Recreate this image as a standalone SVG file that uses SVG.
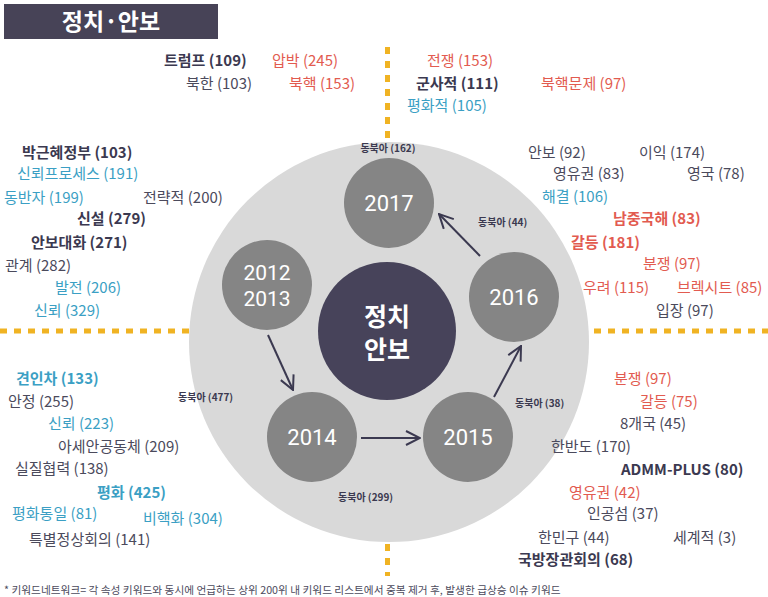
<svg xmlns="http://www.w3.org/2000/svg" width="768" height="597" viewBox="0 0 768 597">
<style>
text{font-family:"Noto Sans CJK KR","Noto Sans",sans-serif;font-size:15px}
.d{fill:#4b4a5c}
.b{fill:#3b3950;font-weight:700}
.r{fill:#e25b50}
.rb{fill:#e25b50;font-weight:700}
.u{fill:#3b9fc4}
.ub{fill:#3b9fc4;font-weight:700}
.s{fill:#3b3950;font-size:10px;font-weight:700}
.yr{fill:#fff;font-family:Roboto,"Noto Sans",sans-serif;font-size:22px;text-anchor:middle}
.yr2{fill:#fff;font-family:Roboto,"Noto Sans",sans-serif;font-size:21px;text-anchor:middle}
.ct{fill:#fff;font-size:25px;font-weight:700;text-anchor:middle}
.yc{fill:#858585}
.dash{stroke:#f0b323;stroke-width:5;stroke-dasharray:7 7;fill:none}
.ar{stroke:#3b3950;stroke-width:2;fill:none;marker-end:url(#ah)}
</style>
<defs>
<marker id="ah" viewBox="0 0 16 16" refX="15" refY="8" markerWidth="16" markerHeight="16" markerUnits="userSpaceOnUse" orient="auto">
<path d="M1,1 L15,8 L1,15" fill="none" stroke="#3b3950" stroke-width="2"/>
</marker>
</defs>
<rect width="768" height="597" fill="#fff"/>
<g id="title">
<rect x="4" y="4" width="214" height="35" fill="#474357"/>
<text x="111" y="30" style="fill:#fff;font-size:23px;font-weight:700;text-anchor:middle">정치·안보</text>
</g>
<g id="dividers">
<line class="dash" x1="387.5" y1="47" x2="387.5" y2="142"/>
<line class="dash" x1="387.5" y1="530" x2="387.5" y2="576"/>
<line class="dash" x1="0" y1="331" x2="197" y2="331"/>
<line class="dash" x1="580" y1="331" x2="768" y2="331"/>
</g>
<g id="ring"><circle cx="389" cy="342" r="200" fill="#d9d9d9"/></g>
<g id="center">
<circle cx="387" cy="331" r="69" fill="#47435a"/>
<text class="ct" x="387" y="326">정치</text>
<text class="ct" x="387" y="359">안보</text>
</g>
<g id="y2017"><circle class="yc" cx="389" cy="203" r="45"/><text class="yr" x="389" y="211">2017</text></g>
<g id="y2012"><circle class="yc" cx="267" cy="285" r="45"/><text class="yr2" x="267" y="280">2012</text><text class="yr2" x="267" y="306">2013</text></g>
<g id="y2016"><circle class="yc" cx="514" cy="297" r="45"/><text class="yr" x="514" y="305">2016</text></g>
<g id="y2014"><circle class="yc" cx="312" cy="437" r="45"/><text class="yr" x="312" y="445">2014</text></g>
<g id="y2015"><circle class="yc" cx="468" cy="437" r="45"/><text class="yr" x="468" y="445">2015</text></g>
<g id="connectors">
<line class="ar" x1="268" y1="335" x2="293" y2="390"/>
<line class="ar" x1="361" y1="438" x2="420" y2="438"/>
<line class="ar" x1="494" y1="397" x2="521" y2="346"/>
<line class="ar" x1="480" y1="256" x2="439" y2="214"/>
<text class="s" x="388" y="152" text-anchor="middle">동북아 (162)</text>
<text class="s" x="478" y="226">동북아 (44)</text>
<text class="s" x="178" y="401">동북아 (477)</text>
<text class="s" x="515" y="407">동북아 (38)</text>
<text class="s" x="338" y="501">동북아 (299)</text>
</g>
<g id="kw-top">
<text class="b" x="164" y="66">트럼프 (109)</text>
<text class="r" x="272" y="66">압박 (245)</text>
<text class="d" x="186" y="89">북한 (103)</text>
<text class="r" x="289" y="89">북핵 (153)</text>
<text class="r" x="427" y="66">전쟁 (153)</text>
<text class="b" x="416" y="89">군사적 (111)</text>
<text class="r" x="541" y="89">북핵문제 (97)</text>
<text class="u" x="407" y="111">평화적 (105)</text>
</g>
<g id="kw-left-top">
<text class="b" x="22" y="158">박근혜정부 (103)</text>
<text class="u" x="17" y="179">신뢰프로세스 (191)</text>
<text class="u" x="4" y="203">동반자 (199)</text>
<text class="d" x="143" y="203">전략적 (200)</text>
<text class="b" x="77" y="224">신설 (279)</text>
<text class="b" x="31" y="248">안보대화 (271)</text>
<text class="d" x="5" y="271">관계 (282)</text>
<text class="u" x="55" y="293">발전 (206)</text>
<text class="u" x="34" y="316">신뢰 (329)</text>
</g>
<g id="kw-right-top">
<text class="d" x="528" y="158">안보 (92)</text>
<text class="d" x="639" y="158">이익 (174)</text>
<text class="d" x="553" y="179">영유권 (83)</text>
<text class="d" x="687" y="179">영국 (78)</text>
<text class="u" x="542" y="202">해결 (106)</text>
<text class="rb" x="613" y="224">남중국해 (83)</text>
<text class="rb" x="571" y="248">갈등 (181)</text>
<text class="r" x="643" y="269">분쟁 (97)</text>
<text class="r" x="583" y="293">우려 (115)</text>
<text class="r" x="677" y="293">브렉시트 (85)</text>
<text class="d" x="656" y="316">입장 (97)</text>
</g>
<g id="kw-left-bottom">
<text class="ub" x="16" y="384">견인차 (133)</text>
<text class="d" x="8" y="407">안정 (255)</text>
<text class="u" x="48" y="429">신뢰 (223)</text>
<text class="d" x="58" y="452">아세안공동체 (209)</text>
<text class="d" x="15" y="474">실질협력 (138)</text>
<text class="ub" x="97" y="498">평화 (425)</text>
<text class="u" x="12" y="519">평화통일 (81)</text>
<text class="u" x="143" y="524">비핵화 (304)</text>
<text class="d" x="29" y="545">특별정상회의 (141)</text>
</g>
<g id="kw-right-bottom">
<text class="r" x="614" y="384">분쟁 (97)</text>
<text class="r" x="640" y="407">갈등 (75)</text>
<text class="d" x="620" y="429">8개국 (45)</text>
<text class="d" x="551" y="452">한반도 (170)</text>
<text class="b" x="621" y="475">ADMM-PLUS (80)</text>
<text class="r" x="569" y="498">영유권 (42)</text>
<text class="d" x="587" y="519">인공섬 (37)</text>
<text class="d" x="538" y="543">한민구 (44)</text>
<text class="d" x="673" y="543">세계적 (3)</text>
<text class="b" x="518" y="565">국방장관회의 (68)</text>
</g>
<g id="footnote">
<text x="4" y="594" style="fill:#4b4a5c;font-size:10.7px">* 키워드네트워크= 각 속성 키워드와 동시에 언급하는 상위 200위 내 키워드 리스트에서 중복 제거 후, 발생한 급상승 이슈 키워드</text>
</g>
</svg>
